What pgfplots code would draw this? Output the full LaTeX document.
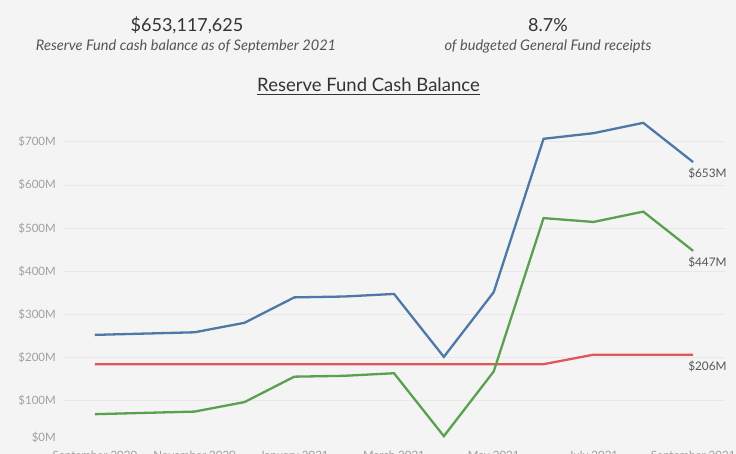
\documentclass[border=0pt]{standalone}
\usepackage{fontspec}
\setmainfont{Lato}
\usepackage{pgfplots}
\pgfplotsset{compat=1.18}
\definecolor{bg}{HTML}{F4F4F4}
\definecolor{gridc}{HTML}{E8E8E8}
\definecolor{tickc}{HTML}{A0A0A0}
\definecolor{labc}{HTML}{555555}
\definecolor{titc}{HTML}{333333}
\definecolor{subc}{HTML}{555555}
\definecolor{cblue}{HTML}{4E79A7}
\definecolor{cgreen}{HTML}{59A14F}
\definecolor{cred}{HTML}{E15759}
\begin{document}
\begin{tikzpicture}[x=1pt,y=1pt]
\fill[bg] (0,0) rectangle (736,-454);
% header
\node[anchor=base, inner sep=0, text=titc, font=\fontsize{18}{21}\selectfont] at (187,-31.7) {\$653,117,625};
\node[anchor=base, inner sep=0, text=subc, font=\fontsize{14.6}{16}\selectfont\itshape] at (186,-51) {Reserve Fund cash balance as of September 2021};
\node[anchor=base, inner sep=0, text=titc, font=\fontsize{18}{21}\selectfont] at (548,-31.7) {8.7\%};
\node[anchor=base, inner sep=0, text=subc, font=\fontsize{14.6}{16}\selectfont\itshape] at (548,-51) {of budgeted General Fund receipts};
\node[anchor=base, inner sep=0, text=titc, font=\fontsize{18.5}{21}\selectfont] (T) at (368.5,-91.7) {Reserve Fund Cash Balance};
\draw[titc, line width=1pt] (T.west |- 0,-95) -- (T.east |- 0,-95);
\begin{axis}[
  at={(63pt,-445.2pt)}, anchor=south west,
  scale only axis, width=662pt, height=331.4pt,
  xmin=-0.64, xmax=12.64, ymin=-4, ymax=765,
  axis line style={draw=none}, major tick length=0pt,
  ytick={100,200,...,700},
  yticklabels={\$100M,\$200M,\$300M,\$400M,\$500M,\$600M,\$700M},
  extra y ticks={0}, extra y tick labels={\$0M},
  extra y tick style={grid=none, yticklabel style={yshift=6pt}},
  xtick={0,2,...,12},
  xticklabels={September 2020,November 2020,January 2021,March 2021,May 2021,July 2021,September 2021},
  ymajorgrids, grid style={gridc, line width=0.7pt},
  yticklabel style={font=\fontsize{11.5}{13}\selectfont, text=tickc, inner sep=0pt, anchor=east, xshift=-7pt},
  xticklabel style={font=\fontsize{11.5}{13}\selectfont, text=tickc, inner sep=0pt, anchor=north, yshift=-6pt},
  /pgf/number format/assume math mode=true,
  clip=false,
]
\addplot[cred, line width=2.3pt] coordinates {
(0,184) (1,184) (2,184) (3,184) (4,184) (5,184) (6,184) (7,184) (8,184) (9,184) (10,206) (11,206) (12,206)};
\addplot[cgreen, line width=2.3pt] coordinates {
(0,68) (1,71) (2,74) (3,96) (4,155) (5,157) (6,163) (7,17) (8,167) (9,523) (10,514) (11,538) (12,447)};
\addplot[cblue, line width=2.3pt] coordinates {
(0,252) (1,255) (2,258) (3,280) (4,339) (5,341) (6,347) (7,201) (8,351) (9,707) (10,720) (11,744) (12,653)};
\node[anchor=north west, inner sep=0, text=labc, font=\fontsize{11.8}{13}\selectfont] at ([xshift=-5pt,yshift=-6pt]axis cs:12,653) {\$653M};
\node[anchor=north west, inner sep=0, text=labc, font=\fontsize{11.8}{13}\selectfont] at ([xshift=-5pt,yshift=-6pt]axis cs:12,447) {\$447M};
\node[anchor=north west, inner sep=0, text=labc, font=\fontsize{11.8}{13}\selectfont] at ([xshift=-5pt,yshift=-6pt]axis cs:12,206) {\$206M};
\end{axis}
\pgfresetboundingbox
\path[use as bounding box] (0,0) rectangle (736,-454);
\end{tikzpicture}
\end{document}
